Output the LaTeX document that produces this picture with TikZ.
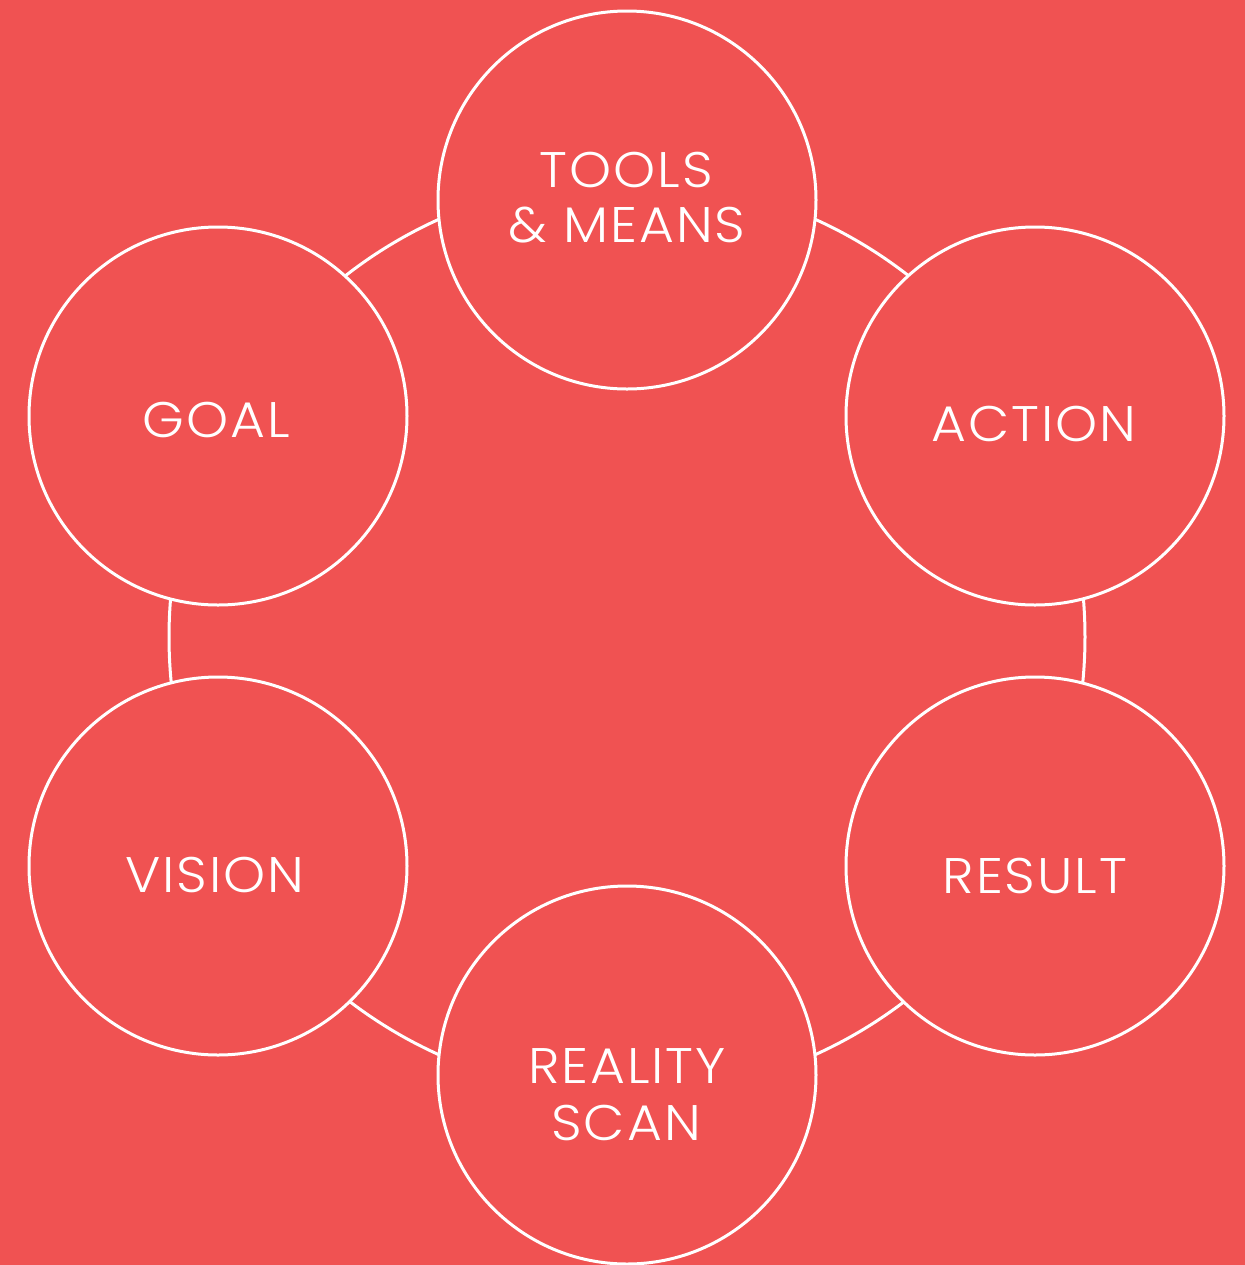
\documentclass[tikz,border=0pt]{standalone}
\usepackage{fontspec}
\setmainfont{Poppins Light}[LetterSpace=4,FakeStretch=1.07]
\definecolor{bgred}{RGB}{240,82,82}
\begin{document}
\begin{tikzpicture}[x=0.75pt,y=-0.75pt,
  ring/.style={draw=white,line width=2.25pt},
  phase/.style={circle,draw=white,line width=2.25pt,fill=bgred,minimum size=283.5pt,inner sep=0pt},
  lbl/.style={text=white,font=\fontsize{37.5}{41}\selectfont,anchor=base,inner sep=0pt,xshift=-0.75pt}]
  % background
  \fill[bgred] (0,0) rectangle (1245,1265);
  \useasboundingbox (0,0) rectangle (1245,1265);
  % connecting ring
  \coordinate (hub) at (627,637);
  \draw[ring] (hub) circle[radius=343.5pt];
  % phases
  \node[phase] (tools)   at (627,200)  {};
  \node[phase] (action)  at (1035,416) {};
  \node[phase] (result)  at (1035,866) {};
  \node[phase] (reality) at (627,1075) {};
  \node[phase] (vision)  at (218,866)  {};
  \node[phase] (goal)    at (218,416)  {};
  % labels
  \node[lbl] (toolsA)   at (627,187)  {TOOLS};
  \node[lbl] (toolsB)   at (628,242)  {\& MEANS};
  \node[lbl] (actionL)  at (1035,441) {ACTION};
  \node[lbl] (resultL)  at (1036,893) {RESULT};
  \node[lbl] (realityA) at (628,1083) {REALITY};
  \node[lbl] (realityB) at (627,1140) {SCAN};
  \node[lbl] (visionL)  at (216,892)  {VISION};
  \node[lbl] (goalL)    at (217,437)  {GOAL};
\end{tikzpicture}
\end{document}
